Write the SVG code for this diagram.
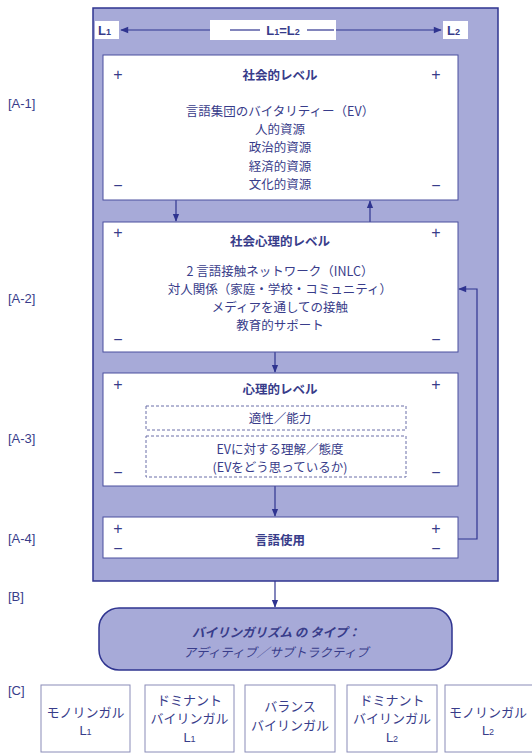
<svg xmlns="http://www.w3.org/2000/svg" width="532" height="753" viewBox="0 0 532 753">
<defs>
<style>
text{font-family:"Noto Sans CJK JP","Noto Sans",sans-serif;fill:#383c8a;}
.t{font-size:12.5px;text-anchor:middle;}
.c{font-size:13px;text-anchor:middle;}
.b{font-weight:bold;}
.lbl{font-size:13px;font-family:"Liberation Sans","Noto Sans",sans-serif;}
.pm{font-size:16px;text-anchor:middle;font-family:"Liberation Sans",sans-serif;}
.lab{font-size:13px;font-family:"Liberation Sans",sans-serif;font-weight:bold;}
.wbox{fill:#ffffff;stroke:#4a4f9e;stroke-width:1;}
.bluebox{fill:#a7aad8;stroke:#2f3490;stroke-width:1.5;}
.dash{fill:none;stroke:#6a6ea8;stroke-width:1;stroke-dasharray:3,2;}
.cbox{fill:#ffffff;stroke:#8a8cb8;stroke-width:1;}
.ln{fill:none;stroke:#2f3490;stroke-width:1.2;}
.sub{font-size:9px;}
</style>
<marker id="ah" viewBox="0 0 10 10" refX="9" refY="5" markerWidth="8" markerHeight="8" markerUnits="userSpaceOnUse" orient="auto">
<path d="M0,1 L10,5 L0,9 z" fill="#2f3490"/>
</marker>
<marker id="ahw" viewBox="0 0 10 10" refX="9" refY="5" markerWidth="14" markerHeight="8" markerUnits="userSpaceOnUse" orient="auto">
<path d="M0,1 L10,5 L0,9 z" fill="#2f3490"/>
</marker>
</defs>
<rect width="532" height="753" fill="#ffffff"/>

<g id="frame">
<rect class="bluebox" x="93" y="8" width="405" height="573"/>
</g>

<g id="side-labels">
<text class="lbl" x="8" y="108">[A-1]</text>
<text class="lbl" x="8" y="303">[A-2]</text>
<text class="lbl" x="8" y="443">[A-3]</text>
<text class="lbl" x="8" y="543">[A-4]</text>
<text class="lbl" x="8" y="601">[B]</text>
<text class="lbl" x="8" y="695">[C]</text>
</g>

<g id="connectors">
<line class="ln" x1="210" y1="30" x2="121" y2="30" marker-end="url(#ahw)"/>
<line class="ln" x1="336" y1="30" x2="441" y2="30" marker-end="url(#ahw)"/>
<line class="ln" x1="176" y1="200" x2="176" y2="221" marker-end="url(#ah)"/>
<line class="ln" x1="370" y1="222" x2="370" y2="201" marker-end="url(#ah)"/>
<line class="ln" x1="275" y1="352" x2="275" y2="372" marker-end="url(#ah)"/>
<line class="ln" x1="275" y1="486" x2="275" y2="516" marker-end="url(#ah)"/>
<polyline class="ln" points="458,539 477,539 477,289 459,289" marker-end="url(#ahw)"/>
<line class="ln" x1="275" y1="581" x2="275" y2="607" marker-end="url(#ah)"/>
</g>

<g id="scale">
<rect x="95" y="21" width="24" height="18" fill="#ffffff"/>
<text class="lab" x="98" y="35">L<tspan class="sub">1</tspan></text>
<rect x="210" y="20" width="126" height="20" fill="#ffffff"/>
<line class="ln" x1="230" y1="30" x2="260" y2="30"/>
<text class="lab" x="283" y="35" text-anchor="middle">L<tspan class="sub">1</tspan>=L<tspan class="sub">2</tspan></text>
<line class="ln" x1="307" y1="30" x2="334" y2="30"/>
<rect x="443" y="21" width="25" height="18" fill="#ffffff"/>
<text class="lab" x="447" y="35">L<tspan class="sub">2</tspan></text>
</g>

<g id="a1">
<rect class="wbox" x="103" y="55" width="355" height="145"/>
<text class="pm" x="118" y="80">+</text>
<text class="pm" x="436" y="80">+</text>
<text class="pm" x="118" y="191">−</text>
<text class="pm" x="436" y="191">−</text>
<text class="t b" x="280" y="80">社会的レベル</text>
<text class="t" x="280" y="116">言語集団のバイタリティー（EV）</text>
<text class="t" x="280" y="134">人的資源</text>
<text class="t" x="280" y="152">政治的資源</text>
<text class="t" x="280" y="171">経済的資源</text>
<text class="t" x="280" y="189">文化的資源</text>
</g>

<g id="a2">
<rect class="wbox" x="103" y="222" width="355" height="130"/>
<text class="pm" x="118" y="238">+</text>
<text class="pm" x="436" y="238">+</text>
<text class="pm" x="118" y="345">−</text>
<text class="pm" x="436" y="345">−</text>
<text class="t b" x="280" y="246">社会心理的レベル</text>
<text class="t" x="280" y="276">2 言語接触ネットワーク（INLC）</text>
<text class="t" x="280" y="294">対人関係（家庭・学校・コミュニティ）</text>
<text class="t" x="280" y="312">メディアを通しての接触</text>
<text class="t" x="280" y="330">教育的サポート</text>
</g>

<g id="a3">
<rect class="wbox" x="103" y="373" width="355" height="113"/>
<text class="pm" x="118" y="390">+</text>
<text class="pm" x="436" y="390">+</text>
<text class="pm" x="118" y="478">−</text>
<text class="pm" x="436" y="478">−</text>
<text class="t b" x="280" y="394">心理的レベル</text>
<rect class="dash" x="146" y="406" width="260" height="24"/>
<text class="t" x="280" y="423">適性／能力</text>
<rect class="dash" x="146" y="436" width="260" height="41"/>
<text class="t" x="280" y="454">EVに対する理解／態度</text>
<text class="t" x="280" y="472">(EVをどう思っているか)</text>
</g>

<g id="a4">
<rect class="wbox" x="103" y="517" width="355" height="41"/>
<text class="pm" x="118" y="534">+</text>
<text class="pm" x="436" y="534">+</text>
<text class="pm" x="118" y="554">−</text>
<text class="pm" x="436" y="554">−</text>
<text class="t b" x="280" y="545">言語使用</text>
</g>

<g id="b">
<rect class="bluebox" x="99" y="608" width="353" height="62" rx="20" ry="20"/>
<text class="t b" x="276" y="637" style="font-style:oblique">バイリンガリズム の タイプ：</text>
<text class="t" x="276" y="657" style="font-style:oblique">アディティブ／サブトラクティブ</text>
</g>

<g id="c1">
<rect class="cbox" x="41" y="685" width="89" height="67"/>
<text class="c" x="85.5" y="717">モノリンガル</text>
<text class="c" x="85.5" y="735" style="font-family:'Liberation Sans',sans-serif">L<tspan class="sub">1</tspan></text>
</g>
<g id="c2">
<rect class="cbox" x="145" y="685" width="89" height="67"/>
<text class="c" x="189.5" y="705">ドミナント</text>
<text class="c" x="189.5" y="723">バイリンガル</text>
<text class="c" x="189.5" y="742" style="font-family:'Liberation Sans',sans-serif">L<tspan class="sub">1</tspan></text>
</g>
<g id="c3">
<rect class="cbox" x="245" y="685" width="90" height="67"/>
<text class="c" x="290" y="711">バランス</text>
<text class="c" x="290" y="730">バイリンガル</text>
</g>
<g id="c4">
<rect class="cbox" x="347" y="685" width="90" height="67"/>
<text class="c" x="392" y="705">ドミナント</text>
<text class="c" x="392" y="723">バイリンガル</text>
<text class="c" x="392" y="742" style="font-family:'Liberation Sans',sans-serif">L<tspan class="sub">2</tspan></text>
</g>
<g id="c5">
<rect class="cbox" x="445" y="685" width="95" height="67"/>
<text class="c" x="488" y="717">モノリンガル</text>
<text class="c" x="488" y="735" style="font-family:'Liberation Sans',sans-serif">L<tspan class="sub">2</tspan></text>
</g>
</svg>
